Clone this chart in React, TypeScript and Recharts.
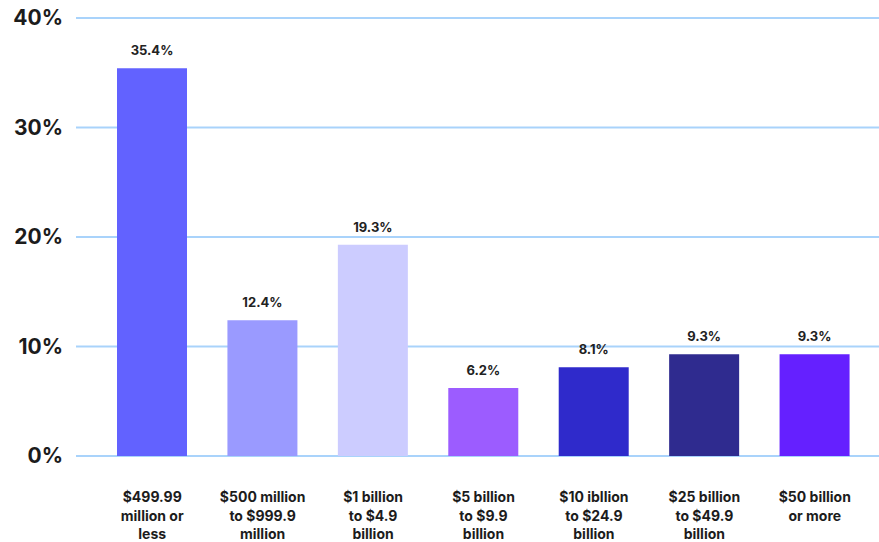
import React from "react"
import {
  BarChart,
  Bar,
  XAxis,
  YAxis,
  CartesianGrid,
  Cell,
  LabelList,
} from "recharts"

// company revenue bands
const categories = [
  "$499.99\nmillion or\nless",
  "$500 million\nto $999.9\nmillion",
  "$1 billion\nto $4.9\nbillion",
  "$5 billion\nto $9.9\nbillion",
  "$10 ibllion\nto $24.9\nbillion",
  "$25 billion\nto $49.9\nbillion",
  "$50 billion\nor more",
]

const shares = [35.4, 12.4, 19.3, 6.2, 8.1, 9.3, 9.3]

const yTicks = [0, 10, 20, 30, 40]

const barColors = [
  "#6262ff",
  "#9a9aff",
  "#ccccff",
  "#9c5cff",
  "#2f2acb",
  "#2f2b8f",
  "#6520ff",
]

const data = categories.map((name, i) => ({ name, share: shares[i] }))

const FONT = "Inter, 'DejaVu Sans', sans-serif"

function CategoryTick(props: any) {
  const { x, y, payload } = props
  const lines: string[] = String(payload.value).split("\n")
  return (
    <text
      x={x}
      y={y}
      textAnchor="middle"
      fontFamily={FONT}
      fontWeight={700}
      fontSize={14}
      fill="#1c1c1c"
    >
      {lines.map((line, i) => (
        <tspan key={i} x={x} dy={i === 0 ? 38 : 18.5}>
          {line}
        </tspan>
      ))}
    </text>
  )
}

export default function App() {
  return (
    <div style={{ position: "absolute", left: 0, top: 0 }}>
      <BarChart
        width={879}
        height={542}
        data={data}
        margin={{ top: 18, right: 0, bottom: 0, left: 0 }}
        barSize={70}
      >
        <CartesianGrid
          vertical={false}
          stroke="#a9d3fb"
          strokeWidth={2}
        />

        <XAxis
          dataKey="name"
          interval={0}
          axisLine={false}
          tickLine={false}
          height={86}
          padding={{ left: 21, right: 9 }}
          tick={<CategoryTick />}
        />

        <YAxis
          width={76}
          domain={[0, 40]}
          ticks={yTicks}
          axisLine={false}
          tickLine={false}
          tickMargin={7}
          tickFormatter={(v) => `${v}%`}
          tick={{
            fontFamily: FONT,
            fontWeight: 700,
            fontSize: 21,
            fill: "#1c1c1c",
          }}
        />

        <Bar dataKey="share" isAnimationActive={false}>
          {data.map((_, i) => (
            <Cell key={i} fill={barColors[i]} />
          ))}
          <LabelList
            dataKey="share"
            position="top"
            offset={13}
            formatter={(v: any) => `${v}%`}
            style={{
              fontFamily: FONT,
              fontWeight: 700,
              fontSize: 13,
              fill: "#222222",
            }}
          />
        </Bar>
      </BarChart>
    </div>
  )
}
